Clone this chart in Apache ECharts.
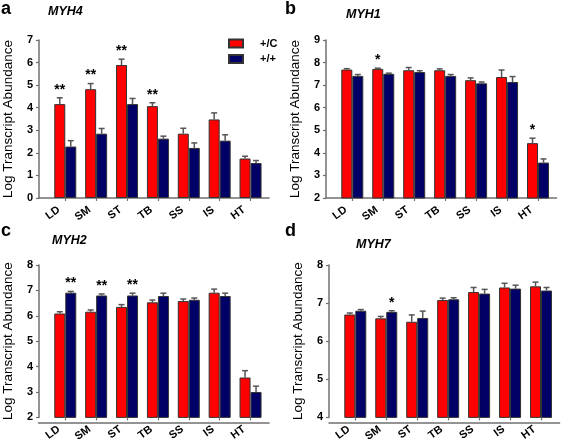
<!DOCTYPE html>
<html>
<head>
<meta charset="utf-8">
<script src="https://cdn.jsdelivr.net/npm/echarts@6/dist/echarts.min.js"></script>
<style>
html,body{margin:0;padding:0;background:#fff;}
#chart{width:568px;height:444px;}
</style>
</head>
<body>
<div id="chart"></div>
<script>
// ---- data ----
const categories = ['LD', 'SM', 'ST', 'TB', 'SS', 'IS', 'HT'];
const seriesNames = ['+/C', '+/+'];

const myh4Het = [4.16, 4.82, 5.89, 4.07, 2.85, 3.48, 1.75];
const myh4HetErr = [0.28, 0.25, 0.26, 0.15, 0.24, 0.29, 0.10];
const myh4Wt = [2.28, 2.85, 4.16, 2.63, 2.22, 2.54, 1.55];
const myh4WtErr = [0.26, 0.23, 0.25, 0.11, 0.22, 0.26, 0.11];
const myh4Sig = ['**', '**', '**', '**', '', '', ''];

const myh1Het = [7.69, 7.72, 7.66, 7.66, 7.22, 7.36, 4.43];
const myh1HetErr = [0.04, 0.03, 0.12, 0.06, 0.10, 0.31, 0.22];
const myh1Wt = [7.41, 7.50, 7.58, 7.41, 7.08, 7.14, 3.57];
const myh1WtErr = [0.06, 0.03, 0.06, 0.06, 0.06, 0.24, 0.16];
const myh1Sig = ['', '*', '', '', '', '', '*'];

const myh2Het = [6.09, 6.16, 6.35, 6.53, 6.58, 6.91, 3.57];
const myh2HetErr = [0.07, 0.07, 0.09, 0.09, 0.08, 0.14, 0.27];
const myh2Wt = [6.91, 6.80, 6.80, 6.78, 6.63, 6.78, 3.00];
const myh2WtErr = [0.05, 0.06, 0.09, 0.11, 0.07, 0.11, 0.23];
const myh2Sig = ['**', '**', '**', '', '', '', ''];

const myh7Het = [6.70, 6.60, 6.51, 7.08, 7.29, 7.41, 7.44];
const myh7HetErr = [0.04, 0.05, 0.18, 0.05, 0.12, 0.11, 0.11];
const myh7Wt = [6.80, 6.77, 6.61, 7.10, 7.25, 7.38, 7.33];
const myh7WtErr = [0.03, 0.03, 0.18, 0.04, 0.11, 0.09, 0.08];
const myh7Sig = ['', '*', '', '', '', '', ''];

const yTitle = 'Log Transcript Abundance';

// ---- layout ----
const FONT = '"Liberation Sans", Arial, sans-serif';
const RED = '#ff0000', NAVY = '#000066';
const BAR_W = 11;
const UNIT = 30.95;          // px per category
const LEAD = 0.85 * UNIT;    // y-axis line to first category centre
const TRAIL = 0.6 * UNIT;    // last category centre to end of x-axis line
const panels = [
  {letter: 'a', gene: 'MYH4', het: myh4Het, hetErr: myh4HetErr, wt: myh4Wt, wtErr: myh4WtErr, sig: myh4Sig, sigOn: 0,
   yMin: 0, yMax: 7, axisX: 38.5, top: 40, height: 158, lx: 1, ly: 0, gx: 48, gy: 5},
  {letter: 'b', gene: 'MYH1', het: myh1Het, hetErr: myh1HetErr, wt: myh1Wt, wtErr: myh1WtErr, sig: myh1Sig, sigOn: 0,
   yMin: 2, yMax: 9, axisX: 326, top: 40, height: 158, lx: 285, ly: 0, gx: 346, gy: 8},
  {letter: 'c', gene: 'MYH2', het: myh2Het, hetErr: myh2HetErr, wt: myh2Wt, wtErr: myh2WtErr, sig: myh2Sig, sigOn: 1,
   yMin: 2, yMax: 8, axisX: 38.5, top: 265, height: 157.5, lx: 1, ly: 222, gx: 52, gy: 234},
  {letter: 'd', gene: 'MYH7', het: myh7Het, hetErr: myh7HetErr, wt: myh7Wt, wtErr: myh7WtErr, sig: myh7Sig, sigOn: 1,
   yMin: 4, yMax: 8, axisX: 329, top: 265, height: 157.5, lx: 285, ly: 222, gx: 356, gy: 238}
];

const grid = [], xAxis = [], yAxis = [], series = [], graphic = [];
const axisColor = '#707070';
const n = panels.length;

panels.forEach((p, k) => {
  const gLeft = p.axisX + LEAD - UNIT / 2;
  grid[k] = {left: gLeft, top: p.top, width: categories.length * UNIT, height: p.height};
  // full-length grid only for the x-axis line running from the y-axis
  grid[k + n] = {left: p.axisX, top: p.top, width: LEAD + (categories.length - 1) * UNIT + TRAIL, height: p.height};

  xAxis[k] = {
    type: 'category', gridIndex: k, data: categories, boundaryGap: true,
    axisLine: {show: false},
    axisTick: {show: true, alignWithLabel: true, length: 3, lineStyle: {color: axisColor, width: 1.2}},
    axisLabel: {show: true, rotate: 36, interval: 0, margin: 6, padding: [3, 8, 0, 0],
      fontFamily: FONT, fontWeight: 'bold', fontSize: 11, color: '#000'},
    splitLine: {show: false}
  };
  xAxis[k + n] = {
    type: 'value', gridIndex: k + n, min: 0, max: 1,
    axisLine: {show: true, onZero: false, lineStyle: {color: axisColor, width: 1.5}},
    axisTick: {show: false}, axisLabel: {show: false}, splitLine: {show: false}
  };
  yAxis[k] = {
    type: 'value', gridIndex: k, min: p.yMin, max: p.yMax, interval: 1,
    offset: gLeft - p.axisX,
    name: yTitle, nameLocation: 'middle', nameGap: 24, nameRotate: 90,
    nameTextStyle: {fontFamily: FONT, fontSize: 13.5, color: '#000'},
    axisLine: {show: true, lineStyle: {color: axisColor, width: 1.5}},
    axisTick: {show: true, length: 3, lineStyle: {color: axisColor, width: 1.2}},
    axisLabel: {fontFamily: FONT, fontWeight: 'bold', fontSize: 11, color: '#000', margin: 6},
    splitLine: {show: false}
  };
  yAxis[k + n] = {type: 'value', gridIndex: k + n, min: 0, max: 1, show: false};

  const groups = [
    {name: seriesNames[0], vals: p.het, errs: p.hetErr, color: RED, off: -BAR_W / 2},
    {name: seriesNames[1], vals: p.wt, errs: p.wtErr, color: NAVY, off: BAR_W / 2}
  ];
  groups.forEach(g => {
    series.push({
      type: 'bar', name: g.name, xAxisIndex: k, yAxisIndex: k,
      barWidth: BAR_W, barGap: '0%',
      itemStyle: {color: g.color, borderColor: '#333', borderWidth: 1},
      data: g.vals,
      silent: true, animation: false
    });
  });
  groups.forEach(g => {
    series.push({
      type: 'custom', name: 'err', xAxisIndex: k, yAxisIndex: k, z: 5,
      data: g.vals.map((v, i) => [i, v, v + g.errs[i]]),
      renderItem: (params, api) => {
        const b = api.coord([api.value(0), api.value(1)]);
        const t = api.coord([api.value(0), api.value(2)]);
        const x = b[0] + g.off;
        const st = {stroke: '#555', lineWidth: 1.5};
        return {type: 'group', children: [
          {type: 'line', shape: {x1: x, y1: b[1], x2: x, y2: t[1]}, style: st},
          {type: 'line', shape: {x1: x - 3, y1: t[1], x2: x + 3, y2: t[1]}, style: st}
        ]};
      },
      silent: true, animation: false
    });
  });
  const sg = groups[p.sigOn];
  series.push({
    type: 'custom', name: 'sig', xAxisIndex: k, yAxisIndex: k, z: 6,
    data: sg.vals.map((v, i) => [i, v + sg.errs[i]]),
    renderItem: (params, api) => {
      const s = p.sig[params.dataIndex];
      if (!s) return null;
      const t = api.coord([api.value(0), api.value(1)]);
      return {type: 'text', x: t[0] + sg.off, y: t[1] - 1,
        style: {text: s, font: 'bold 14px ' + FONT, fill: '#000', align: 'center', verticalAlign: 'bottom'}};
    },
    silent: true, animation: false
  });
  graphic.push({type: 'text', left: p.lx, top: p.ly,
    style: {text: p.letter, font: 'bold 18px ' + FONT, fill: '#000'}});
  graphic.push({type: 'text', left: p.gx, top: p.gy,
    style: {text: p.gene, font: 'italic bold 12.5px ' + FONT, fill: '#000'}});
});

const chart = echarts.init(document.getElementById('chart'), null, {renderer: 'canvas'});
chart.setOption({
  animation: false,
  backgroundColor: '#fff',
  grid, xAxis, yAxis, series, graphic,
  legend: {
    data: seriesNames, orient: 'vertical', left: 223, top: 33,
    itemWidth: 14, itemHeight: 8, itemGap: 4.5, icon: 'rect', selectedMode: false,
    textStyle: {fontFamily: FONT, fontWeight: 'bold', fontSize: 11, color: '#000', padding: [0, 0, 0, 12]}
  }
});
</script>
</body>
</html>
